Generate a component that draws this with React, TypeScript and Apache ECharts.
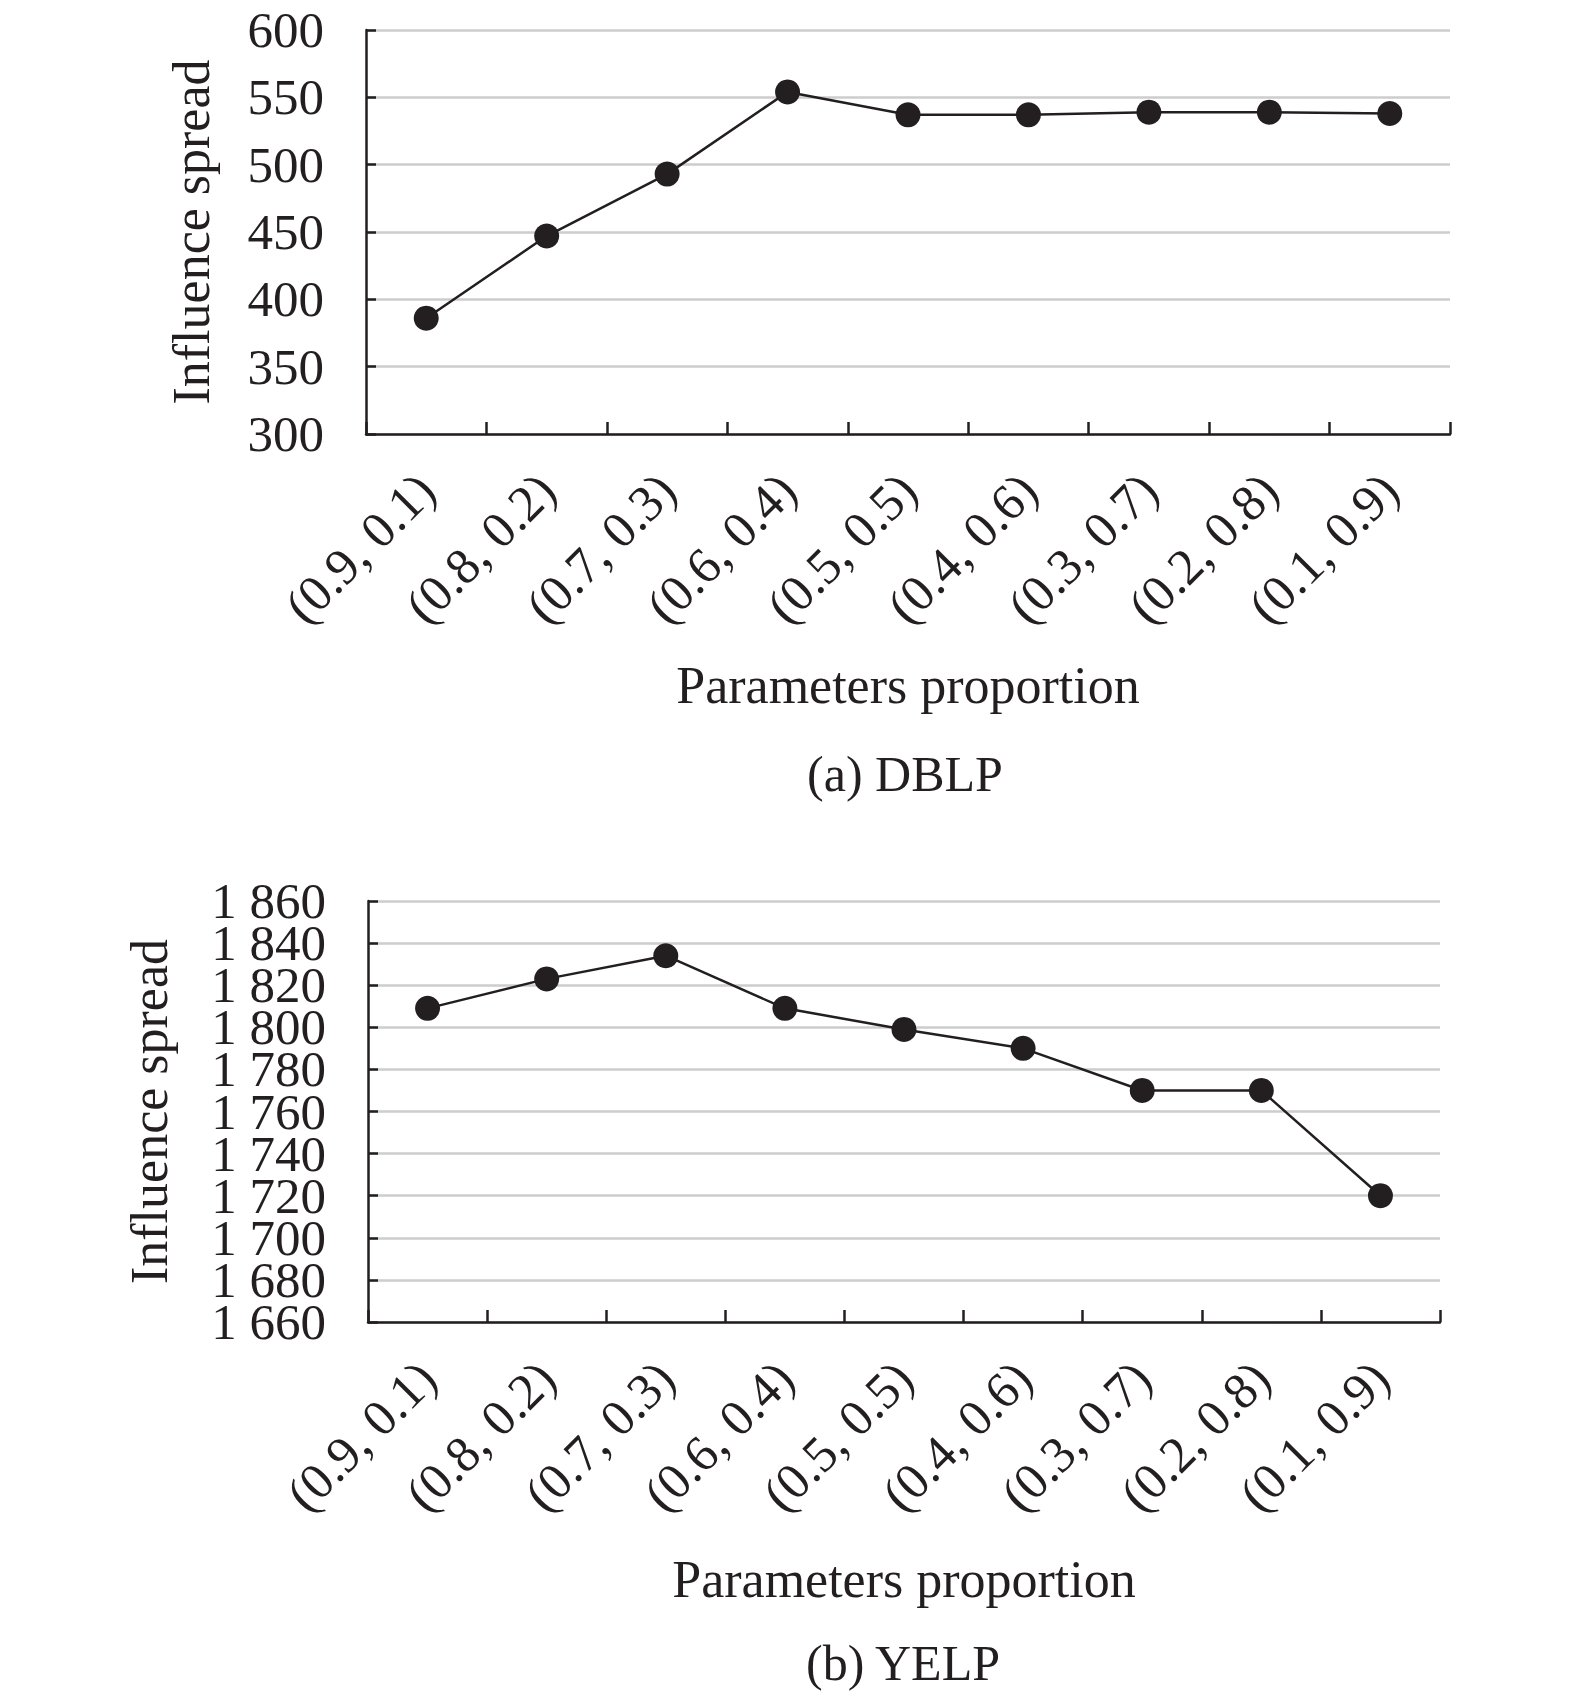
import React, { useEffect, useRef } from 'react';
import * as echarts from 'echarts';

// 横轴：参数比例
const categories = [
  '(0.9, 0.1)',
  '(0.8, 0.2)',
  '(0.7, 0.3)',
  '(0.6, 0.4)',
  '(0.5, 0.5)',
  '(0.4, 0.6)',
  '(0.3, 0.7)',
  '(0.2, 0.8)',
  '(0.1, 0.9)',
];

// 影响力传播值
const dblpValues = [386, 447, 493, 554, 537, 537, 539, 539, 538];
const yelpValues = [1809, 1823, 1834, 1809, 1799, 1790, 1770, 1770, 1720];

// 纵轴范围 [min, max, interval]
const dblpAxis = [300, 600, 50];
const yelpAxis = [1660, 1860, 20];

const captions = ['(a) DBLP', '(b) YELP'];

const INK = '#231f20';
const GRID_GRAY = '#cdcdcd';
const FONT = '"Liberation Serif", "Times New Roman", serif';

// 图 b 的版面（刻度标签挤在一起，ECharts 会隐藏重叠的首尾标签，故拆成两条只画标签的轴）
const GRID_B = { left: 368, top: 901, width: 1072, height: 421 };
const stepB = GRID_B.height / ((yelpAxis[1] - yelpAxis[0]) / yelpAxis[2]);

const fmtThousands = (v: number) => {
  const s = String(v);
  return s.length > 3 ? s.slice(0, s.length - 3) + ' ' + s.slice(-3) : s;
};

const labelStyle = { margin: 42, fontSize: 51, color: INK, fontFamily: FONT };

const xAxisFor = (gridIndex: number, nameGap: number) => ({
  type: 'category',
  gridIndex,
  data: categories,
  boundaryGap: true,
  name: 'Parameters proportion',
  nameLocation: 'middle',
  nameGap,
  nameTextStyle: { fontSize: 52, color: INK, fontFamily: FONT },
  axisLine: { show: true, lineStyle: { color: INK, width: 2.5 } },
  axisTick: { show: true, inside: true, length: 12, interval: 0, lineStyle: { color: INK, width: 2.5 } },
  axisLabel: { interval: 0, rotate: 45, margin: 48, fontSize: 51, color: INK, fontFamily: FONT },
  splitLine: { show: false },
});

const yAxisFor = (gridIndex: number, range: number[], nameGap: number, showLabels: boolean) => ({
  type: 'value',
  gridIndex,
  min: range[0],
  max: range[1],
  interval: range[2],
  name: 'Influence spread',
  nameLocation: 'middle',
  nameRotate: 90,
  nameGap,
  nameTextStyle: { fontSize: 52, color: INK, fontFamily: FONT },
  axisLine: { show: true, lineStyle: { color: INK, width: 2.5 } },
  axisTick: { show: true, inside: true, length: 10, lineStyle: { color: INK, width: 2.5 } },
  axisLabel: { show: showLabels, ...labelStyle },
  splitLine: { show: true, lineStyle: { color: GRID_GRAY, width: 2.5 } },
});

// 只画标签的辅助纵轴
const labelOnlyAxis = (gridIndex: number, min: number, max: number, interval: number) => ({
  type: 'value',
  gridIndex,
  position: 'left',
  min,
  max,
  interval,
  axisLine: { show: false },
  axisTick: { show: false },
  splitLine: { show: false },
  axisLabel: {
    ...labelStyle,
    showMinLabel: true,
    showMaxLabel: true,
    formatter: (v: number) => (v < yelpAxis[0] || v > yelpAxis[1] ? '' : fmtThousands(v)),
  },
});

const lineSeries = (index: number, data: number[]) => ({
  type: 'line',
  xAxisIndex: index,
  yAxisIndex: index,
  data,
  symbol: 'circle',
  symbolSize: 25,
  itemStyle: { color: INK },
  lineStyle: { color: INK, width: 2.5 },
  z: 5,
});

const App = () => {
  const chartRef = useRef<HTMLDivElement>(null);

  useEffect(() => {
    if (!chartRef.current) return;
    const chart = echarts.init(chartRef.current, null, { renderer: 'svg' });

    chart.setOption({
      animation: false,
      backgroundColor: '#ffffff',
      textStyle: { fontFamily: FONT },
      grid: [
        { left: 366, top: 30, width: 1084, height: 404 },
        GRID_B,
        // 辅助网格：上下各多出一格
        { left: GRID_B.left, top: GRID_B.top - stepB, width: GRID_B.width, height: GRID_B.height + 2 * stepB },
      ],
      xAxis: [
        xAxisFor(0, 225),
        xAxisFor(1, 231),
        { type: 'category', gridIndex: 2, data: categories, show: false },
      ],
      yAxis: [
        yAxisFor(0, dblpAxis, 149, true),
        yAxisFor(1, yelpAxis, 193, false),
        labelOnlyAxis(1, yelpAxis[0], yelpAxis[1], yelpAxis[2] * 2),
        labelOnlyAxis(2, yelpAxis[0] - yelpAxis[2], yelpAxis[1] + yelpAxis[2], yelpAxis[2] * 2),
      ],
      series: [lineSeries(0, dblpValues), lineSeries(1, yelpValues)],
      graphic: [
        {
          type: 'text',
          x: 905,
          y: 774,
          style: { text: captions[0], fontSize: 50, fontFamily: FONT, fill: INK, align: 'center', verticalAlign: 'middle' },
        },
        {
          type: 'text',
          x: 903,
          y: 1663,
          style: { text: captions[1], fontSize: 50, fontFamily: FONT, fill: INK, align: 'center', verticalAlign: 'middle' },
        },
      ],
    });

    return () => {
      chart.dispose();
    };
  }, []);

  return (
    <div
      ref={chartRef}
      style={{ position: 'absolute', left: 0, top: 0, width: 1575, height: 1695, background: '#fff' }}
    />
  );
};

export default App;
